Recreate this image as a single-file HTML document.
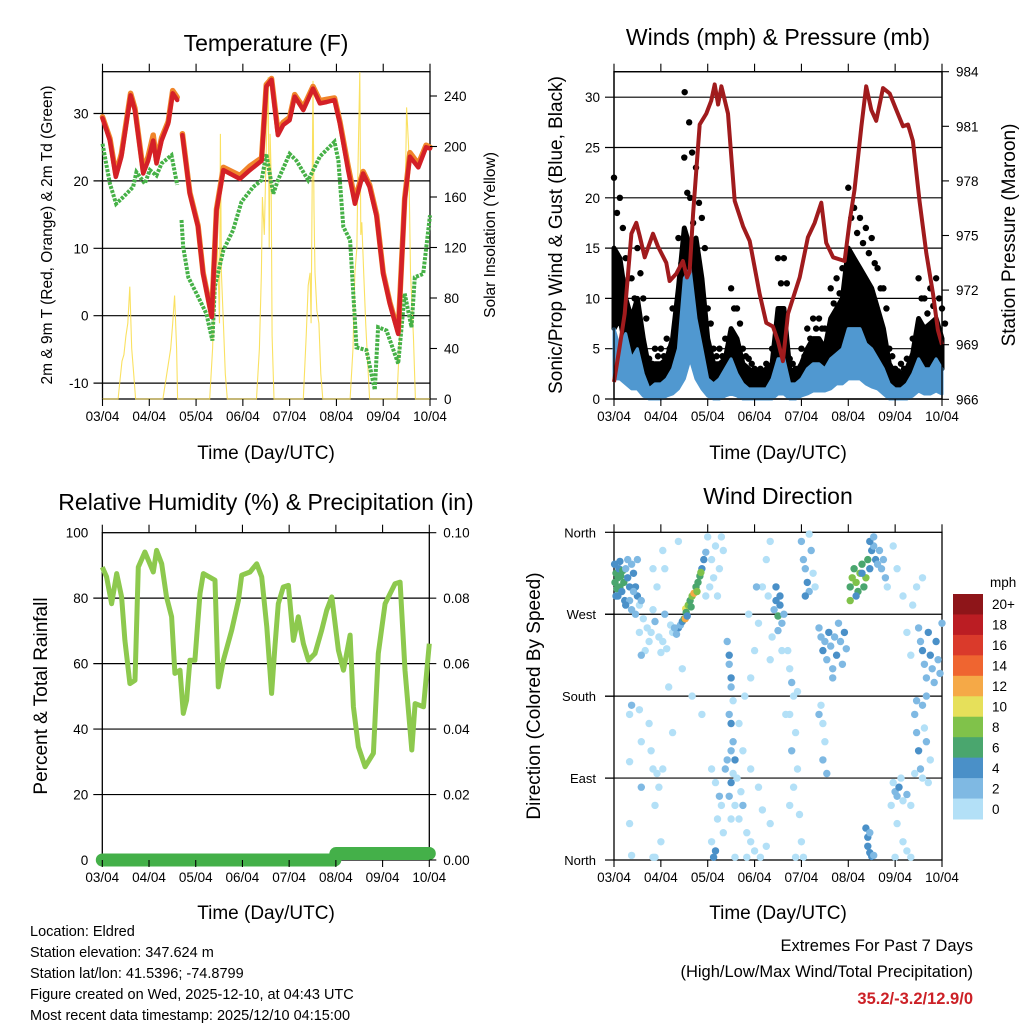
<!DOCTYPE html>
<html><head><meta charset="utf-8">
<style>
html,body{margin:0;padding:0;background:#fff;}
svg{display:block;font-family:"Liberation Sans",Arial,sans-serif;}
</style></head>
<body>
<svg id="chart" width="1024" height="1024" viewBox="0 0 1024 1024" xmlns="http://www.w3.org/2000/svg">
<rect width="1024" height="1024" fill="#fff"/>
<g id="g1"></g>
<g id="g2"></g>
<g id="g3"></g>
<g id="g4"></g>
<g font-size="23" text-anchor="middle" fill="#000">
<text x="266" y="51">Temperature (F)</text>
<text x="778" y="45">Winds (mph) &amp; Pressure (mb)</text>
<text x="266" y="510">Relative Humidity (%) &amp; Precipitation (in)</text>
<text x="778" y="504">Wind Direction</text>
</g>
<g font-size="19" text-anchor="middle">
<text x="266" y="459">Time (Day/UTC)</text>
<text x="778" y="459">Time (Day/UTC)</text>
<text x="266" y="919">Time (Day/UTC)</text>
<text x="778" y="919">Time (Day/UTC)</text>
<text transform="translate(52,235) rotate(-90)" font-size="15.5">2m &amp; 9m T (Red, Orange) &amp; 2m Td (Green)</text>
<text transform="translate(495,235) rotate(-90)" font-size="15.5">Solar Insolation (Yellow)</text>
<text transform="translate(562,235) rotate(-90)">Sonic/Prop Wind &amp; Gust (Blue, Black)</text>
<text transform="translate(1015,235) rotate(-90)">Station Pressure (Maroon)</text>
<text transform="translate(47,696) rotate(-90)">Percent &amp; Total Rainfall</text>
<text transform="translate(540,696) rotate(-90)">Direction (Colored By Speed)</text>
</g>
<g font-size="14.5">
<text x="30" y="936">Location: Eldred</text>
<text x="30" y="957">Station elevation: 347.624 m</text>
<text x="30" y="978">Station lat/lon: 41.5396; -74.8799</text>
<text x="30" y="999">Figure created on Wed, 2025-12-10, at 04:43 UTC</text>
<text x="30" y="1020">Most recent data timestamp: 2025/12/10 04:15:00</text>
</g>
<g font-size="16.5" text-anchor="end">
<text x="973" y="951">Extremes For Past 7 Days</text>
<text x="973" y="977">(High/Low/Max Wind/Total Precipitation)</text>
<text x="973" y="1004" fill="#cc2127" font-weight="bold">35.2/-3.2/12.9/0</text>
</g>
</svg>
<script>
// ---------- data ----------
const dayLabels = ["03/04","04/04","05/04","06/04","07/04","08/04","09/04","10/04"];
const tempTicks = [-10,0,10,20,30];
const solarTicks = [0,40,80,120,160,200,240];
const windTicks = [0,5,10,15,20,25,30];
const pressTicks = [966,969,972,975,978,981,984];
const rhTicks = [0,20,40,60,80,100];
const precipTicks = ["0.00","0.02","0.04","0.06","0.08","0.10"];
const dirLabels = ["North","East","South","West","North"];
const speedLabels = ["0","2","4","6","8","10","12","14","16","18","20+"];

const tempHours = [0,3.8,6.8,9.7,14.4,16.6,20.9,23.4,26,27.7,30.3,33.7,36,38.3,null,41,44.8,49,51.6,56,58.5,62,70.5,75.6,81.6,84,86.7,90,92.7,96,98.6,103,108,111.5,115,119,121.8,126,129.5,133.7,137,140.6,144,147.4,151.7,155,157.7,162,166,168];
const tempRed = [29.3,26,20.6,23.6,32.7,30.5,21.1,23,26,22.6,26,28.5,33,32,null,26.8,18.1,13.2,6.2,-0.2,15.6,21.6,20.3,21.6,23,34,35,26.8,28.3,29,32.5,30.5,33.7,31.5,31.7,32,28.5,21.6,16.6,21.1,19.1,14.7,6.2,1.8,-2.7,17.1,23.6,22,25,24.8];
const tempOrange = [29.5,26.3,21,24,33,30.8,21.5,23.6,26.8,23,26.4,28.8,33.4,32.4,null,27,18.3,13.4,6.4,0,15.8,22,20.8,22.2,23.4,34.3,35.2,27.4,28.7,29.4,32.8,30.9,34,31.9,32.1,32.3,28.8,22.2,17.2,21.4,19.4,15,6.4,2,-2.4,17.4,24.2,22.5,25.3,25];
const dewHours = [0,3.8,7,10.6,15.7,17.4,21.7,24.3,27.7,30.3,35.4,38.3,null,40.5,41.4,44,48.2,53.3,56.4,57.6,62,67,71.3,77.3,81.6,84,87.6,90,96,99.5,105.5,111.5,119,121,123.5,127,130.3,135.4,139.7,141.4,145.7,151.7,155,158.5,160.2,164.5,168];
const dewVals = [25.5,19.6,16.6,17.6,19.1,21.3,19.6,21.6,20.8,22.6,23.8,19.4,null,14.2,10.2,5.7,3.3,0.3,-3.7,4.3,9.7,12.7,16.9,19.1,20.1,24,18.1,20.1,24,23,20.1,23.6,25.8,23,13.2,11.2,-4.7,-5.1,-11,-1.7,-2.2,-7.1,3.3,-1.7,5.7,6.2,14.9];
const solarHours = [0,8,9,10,11,12,13,14,15,16,17,31,33,35,36,37,38,38.5,55,56.5,57.5,58,59,60,60.5,61,62,63,64,79,80.5,81.5,82,83,84,85,85.5,86,86.5,87,88,103,104.5,105.5,106.5,107,108,108.5,109,110,111,112,113,127,128.5,129.5,130.5,131,132,132.5,133,134,135,136,137,151,152.5,153.5,154.5,155.5,156,157,158,159.5,160.5,168];
const solarVals = [0,0,15,30,35,50,60,89,40,20,0,0,20,40,60,82,40,0,0,40,100,150,120,60,210,100,60,20,0,0,40,100,160,130,200,255,120,210,180,50,0,0,50,90,100,60,252,150,100,70,60,20,0,0,40,100,120,180,259,130,140,100,60,30,0,0,50,80,140,180,231,200,100,50,0,0];

const pressHours = [0,2.9,5.5,8.9,11.4,13.1,15.7,20,22.5,26.8,28.5,31.9,35.3,37.4,38.7,40.5,43.9,47.3,49.8,51.6,53.3,55,58.4,61.8,66.1,69.5,74.6,78,81.4,84,86.5,89.1,95.1,99.3,102.8,106.2,108.7,112.2,118.1,120.7,123.2,126.7,129.2,131.8,134.3,137.8,141.2,144.6,148,150.6,153.1,156.5,160,163.4,165.9,168];
const pressVals = [966.95,968.9,970.7,975.1,975.7,975,973.8,975.1,974.4,973.5,972.5,972.9,973.6,972.7,973,976.2,981.1,981.7,982.4,983.3,982.2,983.2,981.7,976.9,975.5,974.7,971.8,970.2,970,969.2,968.1,970.7,972.7,974.9,975.7,976.8,974.6,973.8,973.6,975.8,977.5,981,983.2,981.9,981.3,983.1,982.8,981.9,981,981.1,980.2,976.9,974,971.8,969.8,969];
const windHours = [0,3,6,9,12,15,18,21,24,27,30,33,36,39,42,45,48,51,54,57,60,63,66,69,72,75,78,81,84,87,90,93,96,99,102,105,108,111,114,117,120,123,126,129,132,135,138,141,144,147,150,153,156,159,162,165,168];
const gustHigh = [22,20,14,12,15,10,4,5,5,6,9,16,24,20,23,18,9,5,5,6,11,9,5,4,3,3,3.5,5,14,14,4,3,5,7,8,8,7,11,12,13,21,19,18,17,16,13,11,5,3,3.5,4,6,12,10,11,12,9];
const gustDense = [15,14,10,8,10,6,3,3.5,3.5,4,6,11,17,15,16,12,6,3.5,3.5,4,7,6,3.5,3,2.5,2.5,3,3.5,9,9,3,2.5,3.5,5,6,6,5,8,9,10,15,14,13,12,11,9,7,3.5,2.5,2.5,3,4.5,8,7,7.5,8,6];
const gustLow = [7,8,5,4,4,2,1,1.5,1,2,3,4,6,10,9,5,2,2,1,1,3,2,1,1,1,1,1,1,2,3,1,1,1.5,2,3,3,3,4,4,5,6,7,6,5,5,4,3,1,1,1,1,2,3,3,2,3,3];
const sonicHigh = [7,5,6.5,4,5,2.5,1,1.5,1.5,2,3,5,12,13,8,5,2,1.5,2,3,4,2.5,1.5,1,1,1,1,2,4,4,1.5,1.5,2,3,3.5,3.5,3,4,4.5,5,7,7,7,5.5,5,4,3,1.5,1,1,1.5,2.5,4,3,3,4,3];
const sonicLow = [2,2,1.5,1,1,0.3,0,0,0,0.3,0.5,1,2,4,2,1,0.3,0,0,0.3,0.5,0.3,0,0,0,0,0,0,0.5,0.5,0,0,0.3,0.5,0.8,0.8,0.8,1,1.5,1.5,2,2,2,1.5,1.2,1,0.5,0,0,0,0,0.3,0.8,0.5,0.5,0.8,0.5];
const gustOutlierHours = [36.2,38.5,40];
const gustOutlierVals = [30.5,27.5,24.5];

const rhHours = [0,2.2,4.8,7.4,9.9,11.6,14.2,16.8,18.5,21.9,26.2,27.9,30.5,33,35.6,37.3,39.9,41.6,43.3,45,47.6,50.2,51.9,57.9,59.6,62.2,66.5,69.9,71.6,75.9,79.3,81.9,84.5,87,88.7,90.4,93,95.6,98.2,100.7,103.3,105.9,109.3,112.7,115.3,117.9,121.3,123.9,127.3,129,131.6,135,139.3,141.8,145.3,150.4,153,155.5,159,160.7,165,168];
const rhVals = [89.5,86.5,78.3,87.5,80.4,67.1,53.9,54.9,89.5,94.1,88,94.6,90.5,80.4,74.3,57,58,44.8,48.8,61,61,81.4,87.5,85.5,52.9,61,70.2,79.3,87,88,90.5,86.5,71.2,50.9,65.1,78.3,83.4,83.9,67.1,74.3,66.1,61,63.1,70.2,76.3,80.4,64.1,58,68.7,46.8,34.6,28.5,32.6,63.1,78.3,84.4,84.9,58,33.6,47.8,46.8,66.1];
const precipHours = [0,119.5,120,168];
const precipVals = [0,0,0.002,0.002];

// wind direction observations: [hour, direction deg, speed mph]
const dirObs = [
[0.5,305,6.5],[1,315,6.5],[1.5,298,7],[2,310,6.5],[2.5,320,5],[3,300,6.5],[3.5,312,7],[4,295,5],[4.5,318,6.5],[5,305,6.5],[0.3,325,4.5],[2,290,4.5],[5.5,285,4.5],[1,290,5],[3,328,4.5],
[6,320,3],[7,310,5],[8,300,4.5],[9,325,3],[10,315,4.5],[11,300,5],[12,290,4.5],[8,285,3],[10,295,3],[13,280,1],[7,330,3],[12,330,2.5],[6,280,4.5],[9,275,3],[11,270,2.5],[14,285,2.5],
[15,265,1],[17,255,1.5],[19,250,1],[21,262,2.5],[23,245,1],[25,240,1.5],[27,232,1],[29,258,1],[18,240,1],[24,228,1],[20,275,1],[26,270,2.5],[30,250,1],[16,230,1],[22,300,1],[13,250,1],[14,225,2.5],
[9,170,2.5],[8,160,1],[13,165,1],[14,130,1],[18,150,1],[20,100,1],[22,95,1],[23,80,1],[25,100,1],[19,120,1],[21,60,1],[8,40,1],[24,20,1],[9,5,1],[20,3,1],[21,3,1],[14,80,2.5],[8,108,1],
[33,255,4.5],[34,258,3],[35,262,4.5],[36,265,6.5],[36.5,265,12.5],[36.7,276,10.5],[37,272,7],[38,280,8.5],[39,285,6.5],[40,290,8.5],[41,293,12.5],[42,300,7],[43,305,6.5],[44,312,6.5],[45,320,4.5],[46,330,4.5],[47,338,3],[37.5,268,4.5],[39.5,278,6.5],[42.5,295,8.5],[44.5,316,8.5],[31,255,3],[32,248,3],
[48,355,1],[50,330,1],[52,345,1],[54,320,1],[49,300,1],[56,340,1],[53,290,1],[51,310,1],[47,290,1],[55,355,1],
[58,240,3],[59,225,4.5],[59,215,3],[60,200,4.5],[60,190,3],[61,175,1],[59,160,3],[60,150,4.5],[61,130,3],[60,120,3],[62,110,4.5],[61,95,1],[60,85,4.5],[59,70,3],[62,60,1],[60,45,1],[58,110,3],
[50,100,1],[52,85,1],[54,70,3],[55,60,1],[53,45,1],[56,30,1],[50,20,1],[52,10,4.5],[51,3,4.5],[57,100,3],[63,90,1],[65,75,1],[66,60,3],[64,45,1],[68,30,1],[70,20,1],[72,10,1],[75,3,1],[78,15,1],[80,40,1],[66,120,1],[70,100,1],[74,80,1],[76,55,1],[64,150,1],[67,180,1],[70,200,1],[72,230,1],[74,260,1],[76,300,1],[78,330,1],[80,350,1],[69,270,1],[73,300,2.5],[79,290,1],[62,3,1],[68,3,1],
[82,275,3],[83,285,4.5],[84,268,6.5],[85,280,4.5],[86,260,3],[84,252,3],[85,290,4.5],[87,270,3],[83,300,4.5],[81,245,1],[80,220,1],[86,230,1],
[96,350,3],[97,330,3],[98,320,3],[99,305,4.5],[100,295,3],[101,340,3],[102,315,1],[103,300,1],[98,290,4.5],[100,358,1],
[89,230,1],[90,210,1],[91,195,3],[92,180,1],[90,160,1],[93,140,1],[91,120,3],[94,100,1],[92,80,1],[90,60,1],[95,50,1],[96,20,1],[97,3,1],[93,3,1],[88,160,1],[94,185,1],
[105,255,3],[106,245,3],[107,230,4.5],[108,240,3],[109,220,3],[110,250,4.5],[111,235,3],[112,210,3],[113,245,3],[114,225,4.5],[115,260,3],[116,240,3],[117,215,3],[118,250,4.5],[119,232,3],[112,200,3],
[106,170,1],[107,150,1],[108,130,1],[107,110,3],[109,95,3],[105,160,3],
[121,300,6.5],[122,310,8.5],[123,320,6.5],[124,305,8.5],[125,295,6.5],[126,315,8.5],[127,325,6.5],[128,300,6.5],[129,310,8.5],[130,330,6.5],[131,320,4.5],[132,340,4.5],[133,345,3],[134,330,4.5],[135,325,3],[136,340,3],[137,320,3],[138,330,3],[139,310,3],[140,300,1],[121,285,8.5],[124,290,4.5],[131,350,4.5],[133,355,3],[127,315,4.5],
[129,35,4.5],[130,25,4.5],[130,15,4.5],[131,8,4.5],[132,4,4.5],[133,5,3],[131,30,3],
[143,85,1],[144,75,3],[145,70,3],[146,80,4.5],[147,90,1],[148,65,1],[150,72,3],[152,60,1],[154,95,1],[142,60,1],[145,40,1],[148,20,1],[150,10,1],[144,3,1],[152,3,1],
[156,255,3],[157,240,3],[158,230,4.5],[159,215,3],[160,200,3],[161,250,4.5],[162,225,4.5],[163,210,3],[164,195,3],[165,240,4.5],[166,220,3],[167,205,3],[168,260,3],[160,180,3],[158,170,3],
[154,160,3],[155,140,3],[156,120,4.5],[157,100,3],[158,90,1],[160,130,3],[162,110,1],[155,175,3],[159,145,1],[161,85,1],
[143,345,1],[145,320,1],[148,290,1],[150,250,1],[152,225,1],[155,300,1],[158,310,1],[153,280,1],
[35,210,1],[40,180,1],[45,160,1],[30,140,1],[28,190,1],[33,350,1],[25,340,1],[20,320,1],[26,320,1]
];
const speedColors = ["#b3e0f7","#7fb9e3","#4a90c8","#4aa66e","#80c24a","#e6e05a","#f5a947","#ef6530","#da3a2b","#bb1d23","#8e1519"];

// ---------- helpers ----------
const NS = "http://www.w3.org/2000/svg";
function mk(parent, tag, attrs, txt){
  const e = document.createElementNS(NS, tag);
  for (const k in attrs) e.setAttribute(k, attrs[k]);
  if (txt !== undefined) e.textContent = txt;
  parent.appendChild(e);
  return e;
}
function pathD(xs, ys, fx, fy){
  let d = "", pen = false;
  for (let i=0;i<xs.length;i++){
    if (xs[i]===null || ys[i]===null){ pen=false; continue; }
    d += (pen?"L":"M") + fx(xs[i]).toFixed(1) + "," + fy(ys[i]).toFixed(1);
    pen = true;
  }
  return d;
}
function bandD(xs, lo, hi, fx, fy){
  let d = "M";
  for (let i=0;i<xs.length;i++) d += (i?"L":"") + fx(xs[i]).toFixed(1)+","+fy(hi[i]).toFixed(1);
  for (let i=xs.length-1;i>=0;i--) d += "L" + fx(xs[i]).toFixed(1)+","+fy(lo[i]).toFixed(1);
  return d + "Z";
}
function frame(g, P, grids, fy){
  for (const v of grids){
    const ln = mk(g,"line",{x1:P.x0-9,x2:P.x1,y1:fy(v),y2:fy(v),stroke:"#000","stroke-width":1.2});
    
    
  }
  const r = mk(g,"rect",{x:P.x0,y:P.y0,width:P.x1-P.x0,height:P.y1-P.y0,fill:"none",stroke:"#000","stroke-width":1.3});
  
  
}
function xAxis(g, P){
  dayLabels.forEach((lab,i)=>{
    const x = P.x0 + i*(P.x1-P.x0)/7;
    const t1 = mk(g,"line",{x1:x,x2:x,y1:P.y1,y2:P.y1+7,stroke:"#000","stroke-width":1.1});
    
    
    const t2 = mk(g,"line",{x1:x,x2:x,y1:P.y0-8,y2:P.y0,stroke:"#000","stroke-width":1.1});
    
    
    const tx = mk(g,"text",{x:x,y:P.y1+22,"font-size":"13.5","text-anchor":"middle"},lab);
    
    
  });
}
function leftLabels(g, P, vals, fy, texts){
  vals.forEach((v,i)=>{
    const t = mk(g,"text",{x:P.x0-14,y:fy(v)+5,"font-size":"13.5","text-anchor":"end"}, texts?texts[i]:String(v));
    
    
  });
}
function rightLabels(g, P, vals, fy, texts){
  vals.forEach((v,i)=>{
    const tk = mk(g,"line",{x1:P.x1,x2:P.x1+7,y1:fy(v),y2:fy(v),stroke:"#000","stroke-width":1.1});
    
    
    const t = mk(g,"text",{x:P.x1+14,y:fy(v)+5,"font-size":"13.5","text-anchor":"start"}, texts?texts[i]:String(v));
    
    
  });
}

// ---------- panel 1: temperature ----------
(function(){
  const g = document.getElementById("g1");
  const P = {x0:102.5,x1:430,y0:71.7,y1:399};
  const fx = h => P.x0 + h/168*(P.x1-P.x0);
  const fy = t => 315.7 - t*6.74;
  const fs = s => 399 - s*1.2625;
  frame(g,P,tempTicks,fy);
  const sol = mk(g,"path",{d:pathD(solarHours,solarVals,fx,fs),fill:"none",stroke:"#f9dc45","stroke-width":1.1,opacity:0.85});
  
  
  const dew = mk(g,"path",{d:pathD(dewHours,dewVals,fx,fy),fill:"none",stroke:"#46b147","stroke-width":4,"stroke-dasharray":"3,1.3"});
  
  
  const or = mk(g,"path",{d:pathD(tempHours,tempOrange,fx,fy),fill:"none",stroke:"#f0852a","stroke-width":5.5,"stroke-linejoin":"round","stroke-linecap":"round"});
  
  
  const rd = mk(g,"path",{d:pathD(tempHours,tempRed,fx,fy),fill:"none",stroke:"#d42027","stroke-width":4.5,"stroke-linejoin":"round","stroke-linecap":"round"});
  
  
  xAxis(g,P);
  leftLabels(g,P,tempTicks,fy);
  rightLabels(g,P,solarTicks,fs);
})();

// ---------- panel 2: winds ----------
(function(){
  const g = document.getElementById("g2");
  const P = {x0:614,x1:942,y0:71.7,y1:399};
  const fx = h => P.x0 + h/168*(P.x1-P.x0);
  const fy = v => 399 - v*10.06;
  const fp = p => 71.7 + (984-p)*18.2;
  frame(g,P,windTicks,fy);
  const gb = mk(g,"path",{d:bandD(windHours,gustLow,gustDense,fx,fy),fill:"#000",stroke:"#000","stroke-width":5,"stroke-linejoin":"round"});
  
  
  windHours.forEach((h,i)=>{
    const c = mk(g,"circle",{cx:fx(h),cy:fy(gustHigh[i]),r:3.2,fill:"#000"});
    
    
    const c2 = mk(g,"circle",{cx:fx(h)+3,cy:fy((gustHigh[i]+gustDense[i])/2),r:3.2,fill:"#000"});
    
    
  });
  gustOutlierHours.forEach((h,i)=>{
    const c = mk(g,"circle",{cx:fx(h),cy:fy(gustOutlierVals[i]),r:3.2,fill:"#000"});
    
    
  });
  const sb = mk(g,"path",{d:bandD(windHours,sonicLow,sonicHigh,fx,fy),fill:"#5098d0",stroke:"#5098d0","stroke-width":3,"stroke-linejoin":"round"});
  
  
  const pl = mk(g,"path",{d:pathD(pressHours,pressVals,fx,fp),fill:"none",stroke:"#a01b1d","stroke-width":4,"stroke-linejoin":"round"});
  
  
  const fr = mk(g,"rect",{x:P.x0,y:P.y0,width:P.x1-P.x0,height:P.y1-P.y0,fill:"none",stroke:"#000","stroke-width":1.3});
  
  
  xAxis(g,P);
  leftLabels(g,P,windTicks,fy);
  rightLabels(g,P,pressTicks,fp);
})();

// ---------- panel 3: humidity ----------
(function(){
  const g = document.getElementById("g3");
  const P = {x0:102.3,x1:429.3,y0:532.7,y1:860};
  const fx = h => P.x0 + h/168*(P.x1-P.x0);
  const fy = r => 860 - r*3.273;
  const fq = p => 860 - p*3273;
  frame(g,P,[20,40,60,80],fy);
  const rh = mk(g,"path",{d:pathD(rhHours,rhVals,fx,fy),fill:"none",stroke:"#8dc94e","stroke-width":5,"stroke-linejoin":"round"});
  
  
  const pr = mk(g,"path",{d:pathD(precipHours,precipVals,fx,fq),fill:"none",stroke:"#44b049","stroke-width":13,"stroke-linecap":"round","stroke-linejoin":"round"});
  
  
  xAxis(g,P);
  leftLabels(g,P,rhTicks,fy);
  rightLabels(g,P,[0,0.02,0.04,0.06,0.08,0.10],fq,precipTicks);
})();

// ---------- panel 4: wind direction ----------
(function(){
  const g = document.getElementById("g4");
  const P = {x0:614,x1:942,y0:532.3,y1:860};
  const fx = h => P.x0 + h/168*(P.x1-P.x0);
  const fy = d => 860 - d/360*(860-532.3);
  frame(g,P,[90,180,270],fy);
  dirObs.forEach(o=>{
    const ci = Math.min(10, Math.floor(o[2]/2));
    const c = mk(g,"circle",{cx:fx(o[0]).toFixed(1),cy:fy(o[1]).toFixed(1),r:3.7,fill:speedColors[ci]});
    
    
  });
  xAxis(g,P);
  dirLabels.forEach((lab,i)=>{
    const y = fy(i*90);
    const tk = mk(g,"line",{x1:P.x0-9,x2:P.x0,y1:y,y2:y,stroke:"#000","stroke-width":1.2});
    
    
    const t = mk(g,"text",{x:596,y:y+5,"font-size":"13","text-anchor":"end"},lab);
    
    
  });
  const cbTop = 594, cbH = 225/11;
  const u = mk(g,"text",{x:990,y:587,"font-size":"13.5"},"mph");
  
  
  speedLabels.slice().reverse().forEach((lab,i)=>{
    const ci = 10 - i;
    const r = mk(g,"rect",{x:953,y:cbTop+i*cbH,width:30,height:cbH+0.5,fill:speedColors[ci]});
    
    
    const t = mk(g,"text",{x:992,y:cbTop+i*cbH+cbH/2+5,"font-size":"13.5"},lab);
    
    
  });
})();
</script>
</body></html>
